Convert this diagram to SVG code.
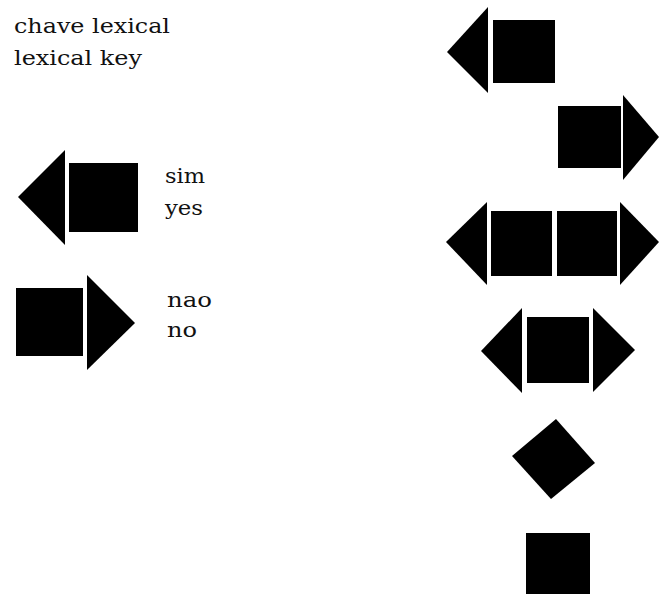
<svg xmlns="http://www.w3.org/2000/svg" width="659" height="595" viewBox="0 0 659 595">
<style>
.s{fill:#000}
.t{font-family:"DejaVu Serif","Liberation Serif",serif;font-size:20px;fill:#111}
</style>
<rect width="659" height="595" fill="#fff"/>
<g id="key-title">
<text class="t" x="14" y="33" textLength="156" lengthAdjust="spacingAndGlyphs">chave lexical</text>
<text class="t" x="14" y="65" textLength="128" lengthAdjust="spacingAndGlyphs">lexical key</text>
</g>
<g id="key-yes">
<polygon class="s" points="18,197 65,150 65,245"/>
<rect class="s" x="69" y="163" width="69" height="69"/>
<text class="t" x="165" y="183" textLength="40" lengthAdjust="spacingAndGlyphs">sim</text>
<text class="t" x="165" y="215" textLength="38" lengthAdjust="spacingAndGlyphs">yes</text>
</g>
<g id="key-no">
<rect class="s" x="16" y="288" width="67" height="68"/>
<polygon class="s" points="87,275 135,323 87,370"/>
<text class="t" x="167" y="307" textLength="45" lengthAdjust="spacingAndGlyphs">nao</text>
<text class="t" x="167" y="337" textLength="30" lengthAdjust="spacingAndGlyphs">no</text>
</g>
<g id="sym1">
<polygon class="s" points="447,52 488,7 488,93"/>
<rect class="s" x="493" y="20" width="62" height="63"/>
</g>
<g id="sym2">
<rect class="s" x="558" y="106" width="63" height="62"/>
<polygon class="s" points="623,95 659,137 623,180"/>
</g>
<g id="sym3">
<polygon class="s" points="446,242 487,202 487,285"/>
<rect class="s" x="491" y="211" width="61" height="65"/>
<rect class="s" x="557" y="211" width="60" height="65"/>
<polygon class="s" points="620,202 659,242 620,285"/>
</g>
<g id="sym4">
<polygon class="s" points="481,351 522,308 522,393"/>
<rect class="s" x="527" y="317" width="62" height="66"/>
<polygon class="s" points="593,308 635,350 593,392"/>
</g>
<g id="sym5">
<polygon class="s" points="556,419 595,463 551,499 512,456"/>
</g>
<g id="sym6">
<rect class="s" x="526" y="533" width="64" height="61"/>
</g>
</svg>
